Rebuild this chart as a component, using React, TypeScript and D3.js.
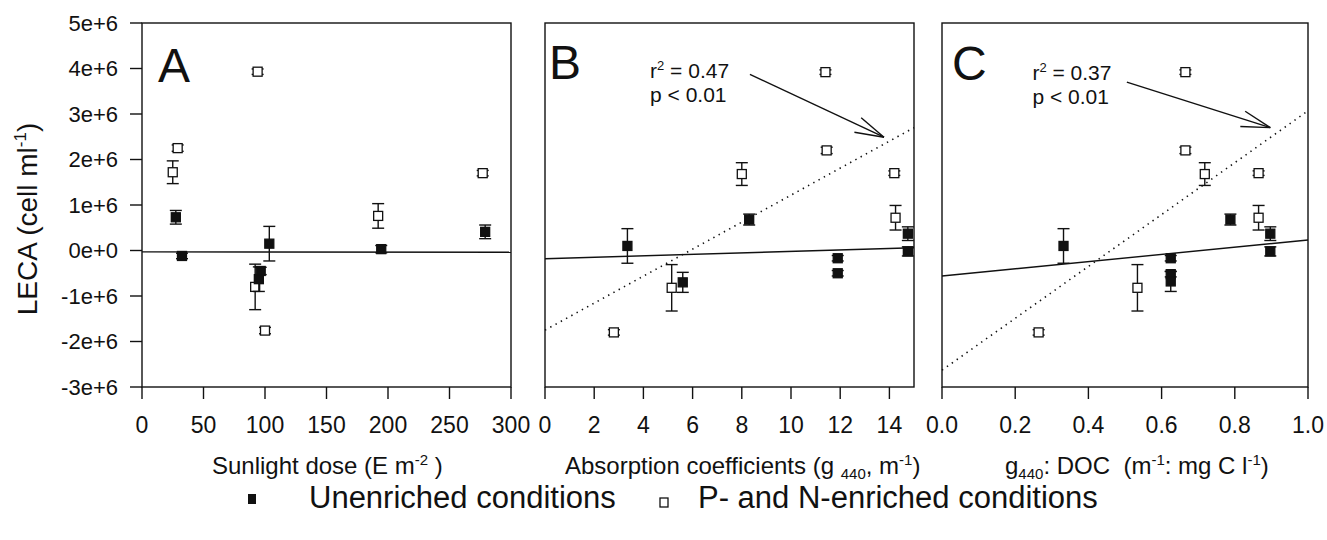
import React from 'react';
import * as d3 from 'd3';

// LECA in 10^6 cells ml-1; e = error bar half-length
const A_FILLED_X = [27.5, 32.5, 96.5, 95, 103.5, 194.5, 279];
const A_FILLED_Y = [0.73, -0.12, -0.45, -0.63, 0.15, 0.03, 0.41];
const A_FILLED_E = [0.15, 0.06, 0.08, 0.27, 0.38, 0.08, 0.15];
const A_OPEN_X = [25, 29, 94, 92, 100, 192, 277];
const A_OPEN_Y = [1.72, 2.25, 3.93, -0.8, -1.76, 0.76, 1.7];
const A_OPEN_E = [0.25, 0.07, 0.06, 0.5, 0.07, 0.27, 0.06];

const B_FILLED_X = [3.35, 5.6, 8.3, 11.9, 11.9, 14.75, 14.75];
const B_FILLED_Y = [0.1, -0.7, 0.68, -0.17, -0.5, 0.37, -0.02];
const B_FILLED_E = [0.38, 0.22, 0.12, 0.06, 0.06, 0.15, 0.1];
const B_OPEN_X = [2.8, 5.15, 8.0, 11.4, 11.45, 14.2, 14.25];
const B_OPEN_Y = [-1.8, -0.82, 1.68, 3.92, 2.2, 1.7, 0.72];
const B_OPEN_E = [0.06, 0.51, 0.25, 0.05, 0.07, 0.05, 0.27];

const C_FILLED_X = [0.332, 0.625, 0.625, 0.625, 0.788, 0.897, 0.897];
const C_FILLED_Y = [0.1, -0.17, -0.52, -0.68, 0.68, 0.37, -0.02];
const C_FILLED_E = [0.38, 0.06, 0.06, 0.22, 0.12, 0.15, 0.1];
const C_OPEN_X = [0.264, 0.534, 0.665, 0.665, 0.718, 0.865, 0.865];
const C_OPEN_Y = [-1.8, -0.82, 3.92, 2.2, 1.68, 1.7, 0.72];
const C_OPEN_E = [0.06, 0.51, 0.05, 0.07, 0.25, 0.05, 0.27];

// regression line end points [x, y]
const A_FIT_FILLED = [[0, -0.03], [300, -0.04]];
const B_FIT_FILLED = [[0, -0.18], [15, 0.06]];
const B_FIT_OPEN = [[0, -1.75], [15, 2.7]];
const C_FIT_FILLED = [[0, -0.56], [1, 0.23]];
const C_FIT_OPEN = [[0, -2.63], [1, 3.07]];

const Y_TICKS = [-3, -2, -1, 0, 1, 2, 3, 4, 5];
const A_TICKS = [0, 50, 100, 150, 200, 250, 300];
const B_TICKS = [0, 2, 4, 6, 8, 10, 12, 14];
const C_TICKS = [0, 0.2, 0.4, 0.6, 0.8, 1.0];

const FONT = '"Liberation Sans", Arial, Helvetica, sans-serif';
const INK = '#111';
const TOP = 23;
const BOTTOM = 387;

const y = d3.scaleLinear().domain([-3, 5]).range([BOTTOM, TOP]);

type Series = { x: number[]; y: number[]; e: number[] };

function ErrorPoints({ s, sx, filled }: { s: Series; sx: d3.ScaleLinear<number, number>; filled: boolean }) {
  return (
    <g>
      {s.x.map((xv, i) => {
        const cx = sx(xv);
        const y0 = y(s.y[i] - s.e[i]);
        const y1 = y(s.y[i] + s.e[i]);
        return (
          <g key={'e' + i} stroke={INK} strokeWidth={1.4}>
            <line x1={cx} x2={cx} y1={y0} y2={y1} />
            <line x1={cx - 6} x2={cx + 6} y1={y0} y2={y0} />
            <line x1={cx - 6} x2={cx + 6} y1={y1} y2={y1} />
          </g>
        );
      })}
      {s.x.map((xv, i) => (
        <rect
          key={'p' + i}
          x={sx(xv) - 4.5}
          y={y(s.y[i]) - 4.5}
          width={9}
          height={9}
          fill={filled ? INK : '#fff'}
          stroke={INK}
          strokeWidth={1.3}
        />
      ))}
    </g>
  );
}

function Arrow({ from, to, sx }: { from: number[]; to: number[]; sx: d3.ScaleLinear<number, number> }) {
  const x1 = sx(from[0]);
  const y1 = y(from[1]);
  const x2 = sx(to[0]);
  const y2 = y(to[1]);
  const ang = Math.atan2(y1 - y2, x1 - x2);
  const len = 30;
  const spread = 0.27;
  const h1 = [x2 + len * Math.cos(ang + spread), y2 + len * Math.sin(ang + spread)];
  const h2 = [x2 + len * Math.cos(ang - spread), y2 + len * Math.sin(ang - spread)];
  return (
    <g stroke={INK} strokeWidth={1.4} fill="none">
      <line x1={x1} y1={y1} x2={x2} y2={y2} />
      <line x1={x2} y1={y2} x2={h1[0]} y2={h1[1]} />
      <line x1={x2} y1={y2} x2={h2[0]} y2={h2[1]} />
    </g>
  );
}

const PANELS = [
  {
    id: 'A', left: 142, right: 511, domain: [0, 300], ticks: A_TICKS, fmt: (d: number) => String(d),
    filled: { x: A_FILLED_X, y: A_FILLED_Y, e: A_FILLED_E },
    open: { x: A_OPEN_X, y: A_OPEN_Y, e: A_OPEN_E },
    fits: [{ pts: A_FIT_FILLED, dotted: false }],
    letterX: 158, letterY: 82, note: null as any,
  },
  {
    id: 'B', left: 545, right: 914, domain: [0, 15], ticks: B_TICKS, fmt: (d: number) => String(d),
    filled: { x: B_FILLED_X, y: B_FILLED_Y, e: B_FILLED_E },
    open: { x: B_OPEN_X, y: B_OPEN_Y, e: B_OPEN_E },
    fits: [{ pts: B_FIT_FILLED, dotted: false }, { pts: B_FIT_OPEN, dotted: true }],
    letterX: 549, letterY: 79,
    note: { r2: '0.47', at: [4.27, 3.8], from: [8.33, 3.87], to: [13.78, 2.49] },
  },
  {
    id: 'C', left: 942, right: 1308, domain: [0, 1], ticks: C_TICKS, fmt: d3.format('.1f'),
    filled: { x: C_FILLED_X, y: C_FILLED_Y, e: C_FILLED_E },
    open: { x: C_OPEN_X, y: C_OPEN_Y, e: C_OPEN_E },
    fits: [{ pts: C_FIT_FILLED, dotted: false }, { pts: C_FIT_OPEN, dotted: true }],
    letterX: 952, letterY: 80,
    note: { r2: '0.37', at: [0.247, 3.75], from: [0.505, 3.7], to: [0.897, 2.7] },
  },
];

export default function App() {
  return (
    <div style={{ position: 'absolute', left: 0, top: 0 }}>
      <svg width={1327} height={540} style={{ display: 'block', background: '#fff' }} fontFamily={FONT}>
        {PANELS.map((p) => {
          const sx = d3.scaleLinear().domain(p.domain).range([p.left, p.right]);
          const line = d3.line<number[]>().x((d) => sx(d[0])).y((d) => y(d[1]));
          return (
            <g key={p.id}>
              <rect x={p.left} y={TOP} width={p.right - p.left} height={BOTTOM - TOP} fill="none" stroke={INK} strokeWidth={1.4} />
              {p.fits.map((f, i) => (
                <path
                  key={i}
                  d={line(f.pts) || ''}
                  fill="none"
                  stroke={INK}
                  strokeWidth={f.dotted ? 1.6 : 1.4}
                  strokeDasharray={f.dotted ? '1.4 4.6' : undefined}
                />
              ))}
              <ErrorPoints s={p.open} sx={sx} filled={false} />
              <ErrorPoints s={p.filled} sx={sx} filled={true} />
              {p.ticks.map((t) => (
                <g key={t}>
                  <line x1={sx(t)} x2={sx(t)} y1={BOTTOM} y2={BOTTOM + 12} stroke={INK} strokeWidth={1.4} />
                  <text x={sx(t)} y={BOTTOM + 46} textAnchor="middle" fontSize={23} fill={INK}>
                    {p.fmt(t)}
                  </text>
                </g>
              ))}
              <text x={p.letterX} y={p.letterY} fontSize={48} fill={INK}>{p.id}</text>
              {p.note && (
                <g>
                  <text x={sx(p.note.at[0])} y={y(p.note.at[1])} fontSize={21} fill={INK} style={{ whiteSpace: 'pre' }}>
                    r<tspan dy={-8} fontSize={13}>2</tspan><tspan dy={8}> = {p.note.r2}</tspan>
                  </text>
                  <text x={sx(p.note.at[0])} y={y(p.note.at[1]) + 24} fontSize={21} fill={INK}>
                    p &lt; 0.01
                  </text>
                  <Arrow from={p.note.from} to={p.note.to} sx={sx} />
                </g>
              )}
            </g>
          );
        })}

        {/* y axis of panel A */}
        {Y_TICKS.map((t) => (
          <g key={t}>
            <line x1={130} x2={142} y1={y(t)} y2={y(t)} stroke={INK} strokeWidth={1.4} />
            <text x={118} y={y(t)} dy="0.36em" textAnchor="end" fontSize={22} fill={INK}>
              {(t * 1e6).toExponential(0)}
            </text>
          </g>
        ))}
        <text transform={`translate(37, ${(TOP + BOTTOM) / 2 + 14}) rotate(-90)`} textAnchor="middle" fontSize={28} fill={INK}>
          LECA (cell ml<tspan dy={-11} fontSize={17}>-1</tspan><tspan dy={11}>)</tspan>
        </text>

        {/* axis titles */}
        <text x={212} y={474} fontSize={24} fill={INK} style={{ whiteSpace: 'pre' }}>
          Sunlight dose (E m<tspan dy={-9} fontSize={15}>-2</tspan><tspan dy={9}> )</tspan>
        </text>
        <text x={565} y={474} fontSize={24} fill={INK} style={{ whiteSpace: 'pre' }}>
          Absorption coefficients (g <tspan dy={5} fontSize={15}>440</tspan><tspan dy={-5}>, m</tspan>
          <tspan dy={-9} fontSize={15}>-1</tspan><tspan dy={9}>)</tspan>
        </text>
        <text x={1005} y={474} fontSize={24} fill={INK} style={{ whiteSpace: 'pre' }}>
          g<tspan dy={5} fontSize={15}>440</tspan><tspan dy={-5}>: DOC  (m</tspan>
          <tspan dy={-9} fontSize={15}>-1</tspan><tspan dy={9}>: mg C l</tspan>
          <tspan dy={-9} fontSize={15}>-1</tspan><tspan dy={9}>)</tspan>
        </text>

        {/* legend */}
        <rect x={248} y={494} width={8} height={10} fill={INK} />
        <text x={309} y={508} fontSize={31} fill={INK}>Unenriched conditions</text>
        <rect x={660} y={498} width={8} height={9} fill="#fff" stroke={INK} strokeWidth={1.3} />
        <text x={698} y={508} fontSize={31} fill={INK}>P- and N-enriched conditions</text>
      </svg>
    </div>
  );
}
